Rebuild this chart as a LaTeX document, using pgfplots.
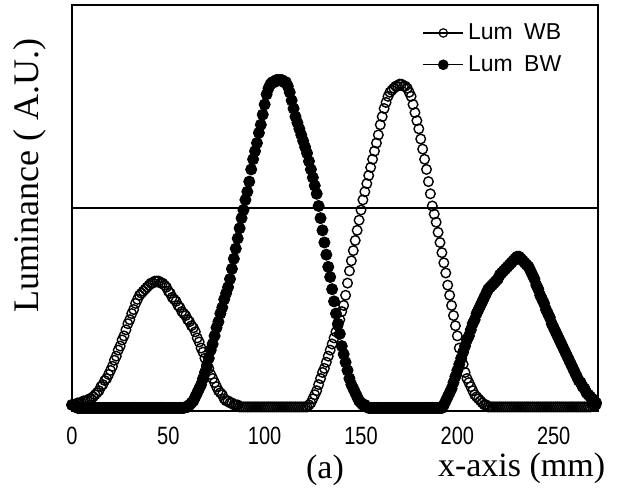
\documentclass[border=0pt]{standalone}
\usepackage{fontspec}
\setmainfont{Liberation Serif}
\newfontfamily\tickfont[FakeStretch=0.8]{Liberation Sans}
\newfontfamily\legfont{Liberation Sans}
\usepackage{pgfplots}
\usepackage{pgfplotstable}
\pgfplotsset{compat=1.18}

% luminance profiles, x in mm
\pgfplotstableread{
x wb bw
0 0.03 0.03
1 0.03 0.03
2 0.03 0.02
3 0.04 0.015
4 0.04 0.015
5 0.04 0.015
6 0.05 0.015
7 0.05 0.015
8 0.05 0.015
9 0.06 0.015
10 0.06 0.015
11 0.07 0.015
12 0.08 0.015
13 0.09 0.015
14 0.10 0.015
15 0.12 0.015
16 0.13 0.015
17 0.15 0.015
18 0.16 0.015
19 0.18 0.015
20 0.20 0.015
21 0.22 0.015
22 0.25 0.015
23 0.27 0.015
24 0.30 0.015
25 0.32 0.015
26 0.35 0.015
27 0.37 0.015
28 0.40 0.015
29 0.43 0.015
30 0.45 0.015
31 0.48 0.015
32 0.50 0.015
33 0.53 0.015
34 0.55 0.015
35 0.57 0.015
36 0.58 0.015
37 0.59 0.015
38 0.60 0.015
39 0.61 0.015
40 0.62 0.015
41 0.63 0.015
42 0.63 0.015
43 0.64 0.015
44 0.64 0.015
45 0.64 0.015
46 0.63 0.015
47 0.63 0.015
48 0.62 0.015
49 0.61 0.015
50 0.59 0.015
51 0.58 0.015
52 0.56 0.015
53 0.55 0.015
54 0.54 0.015
55 0.52 0.015
56 0.51 0.015
57 0.49 0.015
58 0.48 0.015
59 0.47 0.02
60 0.45 0.02
61 0.44 0.03
62 0.42 0.04
63 0.41 0.05
64 0.39 0.07
65 0.36 0.09
66 0.34 0.11
67 0.31 0.13
68 0.29 0.16
69 0.26 0.19
70 0.23 0.22
71 0.21 0.26
72 0.18 0.30
73 0.16 0.33
74 0.14 0.37
75 0.12 0.41
76 0.10 0.44
77 0.09 0.48
78 0.08 0.51
79 0.06 0.55
80 0.05 0.58
81 0.05 0.61
82 0.04 0.65
83 0.04 0.70
84 0.03 0.75
85 0.03 0.80
86 0.03 0.85
87 0.02 0.90
88 0.02 0.95
89 0.02 0.99
90 0.02 1.04
91 0.02 1.08
92 0.02 1.13
93 0.02 1.19
94 0.02 1.24
95 0.02 1.28
96 0.02 1.32
97 0.02 1.37
98 0.02 1.41
99 0.02 1.46
100 0.02 1.51
101 0.02 1.56
102 0.02 1.59
103 0.02 1.61
104 0.02 1.62
105 0.02 1.62
106 0.02 1.63
107 0.02 1.63
108 0.02 1.63
109 0.02 1.63
110 0.02 1.62
111 0.02 1.62
112 0.02 1.60
113 0.02 1.57
114 0.02 1.53
115 0.02 1.49
116 0.02 1.45
117 0.02 1.42
118 0.02 1.39
119 0.02 1.36
120 0.02 1.33
121 0.02 1.30
122 0.02 1.27
123 0.03 1.23
124 0.04 1.19
125 0.06 1.15
126 0.08 1.11
127 0.10 1.07
128 0.13 1.01
129 0.16 0.95
130 0.19 0.89
131 0.21 0.83
132 0.24 0.77
133 0.27 0.71
134 0.30 0.66
135 0.33 0.60
136 0.36 0.54
137 0.39 0.48
138 0.42 0.43
139 0.45 0.38
140 0.49 0.32
141 0.52 0.28
142 0.57 0.24
143 0.63 0.20
144 0.69 0.16
145 0.74 0.13
146 0.79 0.11
147 0.84 0.09
148 0.89 0.07
149 0.94 0.05
150 0.99 0.04
151 1.04 0.03
152 1.08 0.03
153 1.12 0.02
154 1.16 0.015
155 1.20 0.015
156 1.24 0.015
157 1.28 0.015
158 1.32 0.015
159 1.36 0.015
160 1.41 0.015
161 1.45 0.015
162 1.49 0.015
163 1.52 0.015
164 1.55 0.015
165 1.57 0.015
166 1.58 0.015
167 1.59 0.015
168 1.60 0.015
169 1.60 0.015
170 1.61 0.015
171 1.61 0.015
172 1.60 0.015
173 1.60 0.015
174 1.59 0.015
175 1.57 0.015
176 1.55 0.015
177 1.51 0.015
178 1.47 0.015
179 1.43 0.015
180 1.39 0.015
181 1.34 0.015
182 1.29 0.015
183 1.24 0.015
184 1.19 0.015
185 1.13 0.015
186 1.07 0.015
187 1.01 0.015
188 0.97 0.015
189 0.93 0.015
190 0.88 0.015
191 0.83 0.015
192 0.78 0.015
193 0.73 0.03
194 0.68 0.05
195 0.62 0.07
196 0.57 0.09
197 0.52 0.11
198 0.47 0.14
199 0.42 0.17
200 0.37 0.20
201 0.31 0.23
202 0.26 0.26
203 0.23 0.29
204 0.19 0.32
205 0.16 0.35
206 0.14 0.37
207 0.12 0.40
208 0.10 0.43
209 0.08 0.45
210 0.07 0.48
211 0.06 0.50
212 0.05 0.52
213 0.04 0.54
214 0.03 0.56
215 0.03 0.58
216 0.02 0.60
217 0.02 0.61
218 0.02 0.62
219 0.02 0.63
220 0.02 0.64
221 0.02 0.65
222 0.02 0.67
223 0.02 0.68
224 0.02 0.69
225 0.02 0.70
226 0.02 0.71
227 0.02 0.72
228 0.02 0.73
229 0.02 0.74
230 0.02 0.75
231 0.02 0.76
232 0.02 0.76
233 0.02 0.75
234 0.02 0.74
235 0.02 0.73
236 0.02 0.72
237 0.02 0.71
238 0.02 0.69
239 0.02 0.67
240 0.02 0.65
241 0.02 0.62
242 0.02 0.60
243 0.02 0.57
244 0.02 0.55
245 0.02 0.53
246 0.02 0.50
247 0.02 0.48
248 0.02 0.46
249 0.02 0.43
250 0.02 0.41
251 0.02 0.39
252 0.02 0.37
253 0.02 0.35
254 0.02 0.33
255 0.02 0.31
256 0.02 0.29
257 0.02 0.27
258 0.02 0.25
259 0.02 0.23
260 0.02 0.21
261 0.02 0.19
262 0.02 0.17
263 0.02 0.15
264 0.02 0.14
265 0.02 0.12
266 0.02 0.11
267 0.02 0.09
268 0.02 0.08
269 0.02 0.07
270 0.03 0.06
271 0.03 0.05
272 0.03 0.04
}\lumdata

\begin{document}
\begin{tikzpicture}
\path[use as bounding box] (-36pt,-43.5pt) rectangle (273pt,205.5pt);
\begin{axis}[
  scale only axis, width=263pt, height=203pt,
  xmin=0, xmax=273, ymin=0, ymax=2,
  axis line style={line width=0.8pt},
  xtick={0,50,...,250}, ytick={1}, yticklabels={},
  ymajorgrids, grid style={black, line width=0.8pt},
  major tick length=0pt,
  /pgf/number format/assume math mode=true,
  xticklabel style={font=\tickfont\fontsize{12.5}{14}\selectfont, yshift=-4.5pt},
  xlabel={x-axis (mm)},
  xlabel style={font=\fontsize{17}{19}\selectfont, at={(axis description cs:1.027,-0.142)}, anchor=east},
  ylabel={Luminance ( A.U.)},
  ylabel style={font=\fontsize{18}{20}\selectfont, at={(axis description cs:-0.08,0.58)}, anchor=center},
  clip=false,
  legend style={draw=none, fill=none, font=\legfont\fontsize{11.5}{13}\selectfont,
    at={(axis description cs:0.95,0.975)}, anchor=north east, row sep=2.5pt},
  legend cell align=left,
  legend image code/.code={
    \draw[mark repeat=2,mark phase=2,#1] plot coordinates {(0pt,0pt) (10pt,0pt) (20pt,0pt)};},
]
\addlegendimage{black, line width=0.7pt, mark=o, mark size=2.1pt, mark options={solid, fill=white, line width=0.6pt}}
\addlegendentry{Lum\enspace WB}
\addlegendimage{black, line width=0.7pt, mark=*, mark size=2.3pt, mark options={solid, fill=black}}
\addlegendentry{Lum\enspace BW}
\addplot[forget plot, only marks, mark=o, mark size=2.4pt,
  mark options={draw=black, fill=white, line width=0.7pt}] table[x=x, y=wb] {\lumdata};
\addplot[forget plot, only marks, mark=*, mark size=2.8pt,
  mark options={draw=black, fill=black}] table[x=x, y=bw] {\lumdata};
\node[font=\fontsize{17}{19}\selectfont] at (axis description cs:0.481,-0.145) {(a)};
\end{axis}
\end{tikzpicture}
\end{document}
